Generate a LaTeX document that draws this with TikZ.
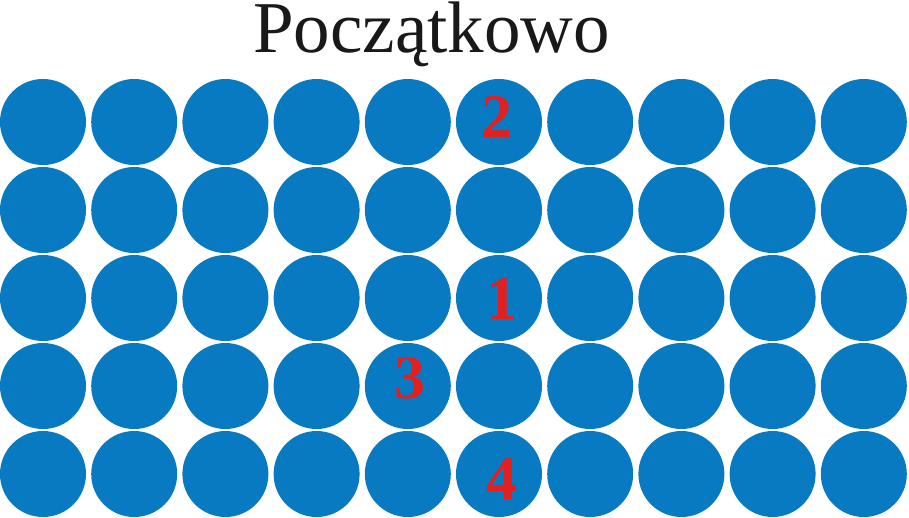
\documentclass[tikz,border=0pt]{standalone}
\usepackage{fontspec}
\setmainfont{Liberation Serif}
\usetikzlibrary{calc}
\definecolor{dotblue}{RGB}{8,122,194}
\definecolor{numred}{RGB}{226,32,32}
\begin{document}
\begin{tikzpicture}[x=1pt,y=-1pt,
  dot/.style={circle,fill=dotblue,draw=none,minimum size=86pt,inner sep=0pt},
  num/.style={text=numred,font=\fontsize{62}{64}\selectfont\bfseries,inner sep=0pt},
  title/.style={font=\fontsize{73}{80}\selectfont,text=black!90,inner sep=0pt,anchor=base,text height=50pt,text depth=15pt}]
\useasboundingbox (0,0) rectangle (909,518);
\fill[white] (0,0) rectangle (909,518);
\node[title] (t) at (431.5,53) {Początkowo};
\foreach \r in {1,...,5}{
  \foreach \c in {1,...,10}{
    \node[dot] (c-\r-\c) at ({43+91.2*(\c-1)},{122+88*(\r-1)}) {};
  }
}
\node[num] (n2) at ($(c-1-6)+(-2,-5)$) {2};
\node[num] (n1) at ($(c-3-6)+(3,1)$) {1};
\node[num] (n3) at ($(c-4-5)+(2,-8)$) {3};
\node[num] (n4) at ($(c-5-6)+(3,5)$) {4};
\end{tikzpicture}
\end{document}
